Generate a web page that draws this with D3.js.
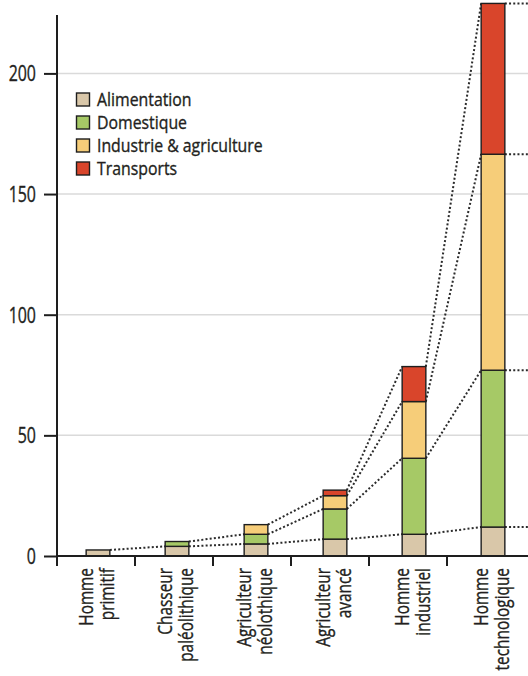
<!DOCTYPE html>
<html>
<head>
<meta charset="utf-8">
<script src="https://cdn.jsdelivr.net/npm/d3@7"></script>
<style>
  html, body { margin: 0; padding: 0; background: #fff; }
  svg { display: block; }
  text {
    font-family: "Open Sans", "Noto Sans", "DejaVu Sans", sans-serif;
    fill: #231f20;
    stroke: #231f20;
    stroke-width: 0.35px;
  }
</style>
</head>
<body>
<svg id="chart" width="528" height="676"></svg>
<script>
// Daily energy consumption per person (thousands of kcal), by stage of development
const categories = [
  ["Homme", "primitif"],
  ["Chasseur", "paléolithique"],
  ["Agriculteur", "néolothique"],
  ["Agriculteur", "avancé"],
  ["Homme", "industriel"],
  ["Homme", "technologique"]
];
const seriesNames = ["Alimentation", "Domestique", "Industrie & agriculture", "Transports"];
const alimentation = [2.5, 4, 5, 7, 9, 12];
const domestique   = [0, 2, 4, 12.5, 31.5, 65];
const industrie    = [0, 0, 4, 5.5, 23.5, 89.5];
const transports   = [0, 0, 0, 2.3, 14.5, 62.5];
const yTicks = [0, 50, 100, 150, 200];
const colors = ["#d9c7a9", "#a6c966", "#f6cd79", "#d9452b"];

const seriesValues = [alimentation, domestique, industrie, transports];
const rows = categories.map((c, i) => {
  const r = { index: i };
  seriesNames.forEach((k, s) => { r[k] = seriesValues[s][i]; });
  return r;
});
const stacked = d3.stack().keys(seriesNames)(rows);

const svg = d3.select("#chart");
const W = 528;
const axisX = 57, baseY = 556;

const y = d3.scaleLinear().domain([0, 200]).range([baseY, 73.4]);
const x = d3.scaleBand()
  .domain(d3.range(categories.length))
  .range([58.5, 532.5])
  .paddingInner(0.7)
  .paddingOuter(0.35);
const bw = x.bandwidth();
// category separators along the baseline
const xBound = d3.scaleLinear().domain([0, categories.length]).range([axisX, 525]);

// horizontal grid
svg.append("g")
  .selectAll("line")
  .data(yTicks.filter(t => t > 0))
  .join("line")
  .attr("x1", axisX).attr("x2", W)
  .attr("y1", d => y(d)).attr("y2", d => y(d))
  .attr("stroke", "#dadada").attr("stroke-width", 1.5);

// dotted connectors between the tops of each layer
const conn = svg.append("g")
  .attr("stroke", "#2b2b2b").attr("stroke-width", 2)
  .attr("stroke-dasharray", "2,2.2").attr("fill", "none");
stacked.forEach((layer, k) => {
  const vals = seriesValues[k];
  for (let i = 0; i < categories.length - 1; i++) {
    if (vals[i] > 0 && vals[i + 1] > 0) {
      conn.append("line")
        .attr("x1", x(i) + bw).attr("y1", y(layer[i][1]))
        .attr("x2", x(i + 1)).attr("y2", y(layer[i + 1][1]));
    }
  }
  const last = categories.length - 1;
  if (vals[last] > 0) {
    conn.append("line")
      .attr("x1", x(last) + bw).attr("y1", y(layer[last][1]))
      .attr("x2", W).attr("y2", y(layer[last][1]));
  }
});

// stacked bars
svg.append("g")
  .selectAll("g")
  .data(stacked)
  .join("g")
  .attr("fill", (d, k) => colors[k])
  .selectAll("rect")
  .data(d => d.filter(p => p[1] - p[0] > 0))
  .join("rect")
  .attr("x", d => x(d.data.index))
  .attr("width", bw)
  .attr("y", d => y(d[1]))
  .attr("height", d => y(d[0]) - y(d[1]))
  .attr("stroke", "#1e1e1e").attr("stroke-width", 1.4);

// y axis
const yAxis = svg.append("g")
  .attr("transform", `translate(${axisX},0)`)
  .call(d3.axisLeft(y).tickValues(yTicks).tickSize(13).tickSizeOuter(0).tickPadding(8));
yAxis.select(".domain").remove();
yAxis.selectAll(".tick line").attr("stroke", "#1e1e1e").attr("stroke-width", 2);
yAxis.selectAll(".tick text")
  .attr("x", 0)
  .attr("fill", "#231f20")
  .attr("transform", "translate(-21,0) scale(0.76,1)")
  .attr("font-size", 21)
  .attr("dy", "0.36em");

svg.append("line")
  .attr("x1", axisX).attr("x2", axisX)
  .attr("y1", 15).attr("y2", baseY + 10)
  .attr("stroke", "#1e1e1e").attr("stroke-width", 2);

// baseline
svg.append("line")
  .attr("x1", axisX).attr("x2", W)
  .attr("y1", baseY).attr("y2", baseY)
  .attr("stroke", "#1e1e1e").attr("stroke-width", 2);

// category separators
svg.append("g")
  .selectAll("line")
  .data(d3.range(1, categories.length))
  .join("line")
  .attr("x1", d => xBound(d)).attr("x2", d => xBound(d))
  .attr("y1", baseY).attr("y2", baseY + 10)
  .attr("stroke", "#1e1e1e").attr("stroke-width", 2);

// category labels, two rotated lines each
const labels = svg.append("g");
categories.forEach((lines, i) => {
  const cx = x(i) + bw / 2;
  lines.forEach((t, j) => {
    labels.append("text")
      .attr("transform", `translate(${cx - 5 + j * 20.5},568) rotate(-90) scale(0.77,1)`)
      .attr("text-anchor", "end")
      .attr("font-size", 20)
      .text(t);
  });
});

// legend
const legend = svg.append("g");
seriesNames.forEach((name, k) => {
  const cy = 99.5 + k * 23;
  legend.append("rect")
    .attr("x", 76.5).attr("y", cy - 6.5)
    .attr("width", 13).attr("height", 13)
    .attr("fill", colors[k])
    .attr("stroke", "#1e1e1e").attr("stroke-width", 1.4);
  legend.append("text")
    .attr("transform", `translate(97,${cy}) scale(0.88,1)`)
    .attr("dy", "0.36em")
    .attr("font-size", 18)
    .text(name);
});
</script>
</body>
</html>
